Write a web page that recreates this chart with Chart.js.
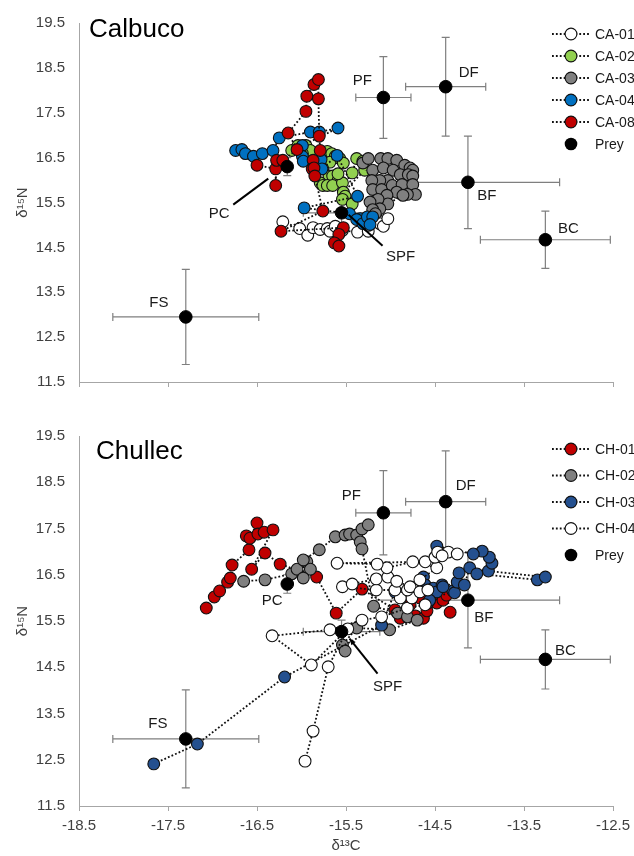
<!DOCTYPE html>
<html><head><meta charset="utf-8">
<script src="https://cdn.jsdelivr.net/npm/chart.js@4"></script>
<style>
html,body{margin:0;padding:0;background:#fff;overflow:hidden;width:634px;height:856px;}
#wrap{position:relative;width:660px;height:856px;}
canvas{position:absolute;left:0;}
#c1{top:0}
#c2{top:405px}
</style></head><body>
<div id="wrap"><canvas id="c1" width="660" height="405" style="width:660px;height:405px"></canvas><canvas id="c2" width="660" height="451" style="width:660px;height:451px"></canvas></div>
<script>
// ---------- DATA ----------
const X_TICKS = [-18.5, -17.5, -16.5, -15.5, -14.5, -13.5, -12.5];
const Y_TICKS = [11.5, 12.5, 13.5, 14.5, 15.5, 16.5, 17.5, 18.5, 19.5];

const PREY_LABELS = ['FS', 'PC', 'SPF', 'PF', 'DF', 'BF', 'BC'];
const PREY_X = [-17.30, -16.16, -15.55, -15.08, -14.38, -14.13, -13.26];
const PREY_Y = [12.95, 16.30, 15.27, 17.84, 18.08, 15.95, 14.67];
const PREY_XERR = [0.82, 0.0, 0.43, 0.31, 0.45, 1.03, 0.73];
const PREY_YERR = [1.06, 0.20, 0.25, 0.91, 1.10, 1.03, 0.64];

// Calbuco
const CA01 = [[-16.21,15.07],[-16.02,14.92],[-15.93,14.77],[-15.87,14.94],[-15.79,14.90],[-15.71,14.92],[-15.68,14.86],[-15.62,14.97],[-15.54,14.88],[-15.37,14.84],[-15.25,14.86],[-15.25,14.99],[-15.15,15.12],[-15.12,15.03],[-15.08,14.97],[-15.03,15.14]];
const CA02 = [[-16.11,16.66],[-16.04,16.77],[-15.95,16.77],[-15.90,16.66],[-15.99,16.59],[-15.71,16.64],[-15.66,16.59],[-15.62,16.53],[-15.57,16.48],[-15.53,16.38],[-15.68,16.40],[-15.76,16.25],[-15.69,16.09],[-15.65,16.09],[-15.59,15.99],[-15.79,15.94],[-15.76,15.88],[-15.71,15.88],[-15.65,15.88],[-15.54,15.94],[-15.59,16.14],[-15.43,16.16],[-15.38,16.48],[-15.31,16.42],[-15.29,16.22],[-15.53,15.73],[-15.51,15.64],[-15.54,15.57],[-15.43,15.47]];
const CA03 = [[-15.31,16.38],[-15.25,16.48],[-15.11,16.48],[-15.03,16.48],[-14.93,16.44],[-14.84,16.33],[-14.78,16.27],[-14.75,16.22],[-15.20,16.22],[-15.08,16.27],[-14.97,16.22],[-14.89,16.12],[-14.80,16.12],[-14.75,16.09],[-15.03,15.99],[-15.12,15.99],[-15.21,15.99],[-15.20,15.79],[-15.10,15.79],[-14.98,15.88],[-14.87,15.90],[-14.75,15.90],[-14.72,15.68],[-14.81,15.68],[-14.93,15.73],[-15.04,15.66],[-14.86,15.66],[-15.03,15.47],[-15.14,15.57],[-15.23,15.51],[-15.12,15.36],[-15.20,15.34],[-15.17,15.25]];
const CA04 = [[-16.74,16.66],[-16.67,16.68],[-16.63,16.59],[-16.54,16.53],[-16.44,16.59],[-16.32,16.66],[-16.25,16.94],[-15.90,17.07],[-15.80,17.07],[-15.59,17.16],[-15.99,16.77],[-15.99,16.53],[-15.98,16.42],[-15.78,16.46],[-15.77,16.25],[-15.60,16.55],[-15.37,15.64],[-15.97,15.38],[-15.46,15.25],[-15.34,15.14],[-15.38,15.12],[-15.31,15.03],[-15.26,15.18],[-15.20,15.18],[-15.23,15.01]];
const CA08 = [[-16.50,16.33],[-16.29,16.25],[-16.29,15.88],[-16.28,16.44],[-16.21,16.44],[-16.05,16.68],[-16.15,17.05],[-15.95,17.53],[-15.94,17.87],[-15.86,18.13],[-15.81,18.24],[-15.81,17.81],[-15.80,16.98],[-15.79,16.66],[-15.87,16.44],[-15.88,16.25],[-15.86,16.27],[-15.85,16.09],[-15.76,15.31],[-16.23,14.86],[-15.53,14.94],[-15.58,14.79],[-15.63,14.60],[-15.58,14.53]];

// Chullec
const CH01 = [[-17.07,15.78],[-16.98,16.02],[-16.92,16.15],[-16.83,16.34],[-16.80,16.43],[-16.78,16.71],[-16.59,17.04],[-16.62,17.34],[-16.58,17.29],[-16.50,17.62],[-16.49,17.38],[-16.42,17.42],[-16.32,17.47],[-16.56,16.62],[-16.41,16.97],[-16.24,16.73],[-15.83,16.45],[-15.61,15.67],[-15.32,16.19],[-14.95,15.74],[-14.89,15.56],[-14.81,15.69],[-14.78,15.85],[-14.72,15.61],[-14.63,15.56],[-14.59,15.72],[-14.67,16.00],[-14.56,15.91],[-14.48,15.89],[-14.44,16.06],[-14.41,15.95],[-14.37,16.06],[-14.33,15.69]];
const CH02 = [[-16.65,16.36],[-16.41,16.39],[-16.11,16.52],[-16.05,16.62],[-15.94,16.78],[-15.90,16.62],[-15.98,16.43],[-15.98,16.82],[-15.80,17.04],[-15.62,17.32],[-15.51,17.36],[-15.46,17.38],[-15.38,17.36],[-15.32,17.49],[-15.25,17.58],[-15.34,17.21],[-15.32,17.06],[-15.19,15.82],[-14.92,15.67],[-14.81,15.59],[-14.70,15.52],[-15.01,15.31],[-15.38,15.35],[-15.54,14.98],[-15.51,14.85]];
const CH03 = [[-17.66,12.41],[-17.17,12.84],[-16.19,14.29],[-15.10,15.41],[-14.95,16.13],[-14.63,16.45],[-14.61,16.28],[-14.52,16.21],[-14.48,16.13],[-14.58,15.89],[-14.56,15.95],[-14.30,16.15],[-14.28,16.11],[-14.42,16.28],[-14.41,16.24],[-14.25,16.34],[-14.23,16.54],[-14.17,16.28],[-14.11,16.65],[-14.03,16.52],[-13.35,16.39],[-13.26,16.45],[-13.90,16.58],[-13.86,16.75],[-13.89,16.88],[-13.97,17.01],[-14.07,16.95],[-14.48,17.12]];
const CH04 = [[-15.96,12.47],[-15.87,13.12],[-15.70,14.51],[-15.48,15.33],[-15.89,14.55],[-16.33,15.18],[-15.68,15.31],[-15.32,15.52],[-15.10,15.59],[-14.81,15.78],[-14.61,15.85],[-14.76,16.00],[-14.89,16.00],[-14.81,16.17],[-14.95,16.17],[-15.16,16.17],[-15.54,16.24],[-15.43,16.30],[-15.16,16.41],[-15.03,16.45],[-14.93,16.36],[-14.78,16.24],[-14.67,16.13],[-14.58,16.17],[-14.67,16.39],[-14.48,16.65],[-14.75,16.78],[-15.04,16.65],[-15.15,16.73],[-15.60,16.75],[-14.61,16.78],[-14.50,16.88],[-14.47,16.99],[-14.35,16.99],[-14.25,16.95],[-14.42,16.91]];

const CA_NAMES = ['CA-01', 'CA-02', 'CA-03', 'CA-04', 'CA-08'];
const CA_SERIES = [CA01, CA02, CA03, CA04, CA08];
const CA_COLORS = ['#FFFFFF', '#92D050', '#808080', '#0070C0', '#C00000'];
const CH_NAMES = ['CH-01', 'CH-02', 'CH-03', 'CH-04'];
const CH_SERIES = [CH01, CH02, CH03, CH04];
const CH_COLORS = ['#C00000', '#808080', '#24508F', '#FFFFFF'];

// ---------- STYLE / LAYOUT ----------
const FONT = "'Liberation Sans', Arial, sans-serif";
Chart.defaults.font.family = FONT;
const AXIS_COL = '#A6A6A6';
const TICK_COL = '#404040';
const MR = 5.9;

function seriesDs(label, pts, color, order) {
  return {
    label, order,
    data: pts.map(p => ({x: p[0], y: p[1]})),
    showLine: true, borderColor: '#111', borderWidth: 1.8, borderDash: [1.8, 2.1],
    pointRadius: MR, pointHoverRadius: MR, pointBackgroundColor: color,
    pointBorderColor: '#111', pointBorderWidth: 1.1, fill: false, tension: 0
  };
}
function preyDs() {
  return {
    label: 'Prey', order: 0,
    data: PREY_X.map((x, i) => ({x, y: PREY_Y[i]})),
    showLine: false, pointRadius: 6.3, pointHoverRadius: 6.3,
    pointBackgroundColor: '#000', pointBorderColor: '#000', pointBorderWidth: 1
  };
}

const preyPlugin = {
  id: 'prey',
  beforeDatasetsDraw(chart, args, o) {
    const {ctx, scales: {x, y}} = chart;
    ctx.save();
    ctx.strokeStyle = '#7F7F7F'; ctx.lineWidth = 1.2;
    PREY_X.forEach((vx, i) => {
      const px = x.getPixelForValue(vx), py = y.getPixelForValue(PREY_Y[i]);
      const x0 = x.getPixelForValue(vx - PREY_XERR[i]), x1 = x.getPixelForValue(vx + PREY_XERR[i]);
      const y0 = y.getPixelForValue(PREY_Y[i] - PREY_YERR[i]), y1 = y.getPixelForValue(PREY_Y[i] + PREY_YERR[i]);
      const c = 4;
      ctx.beginPath();
      if (PREY_XERR[i] > 0) {
        ctx.moveTo(x0, py); ctx.lineTo(x1, py);
        ctx.moveTo(x0, py - c); ctx.lineTo(x0, py + c);
        ctx.moveTo(x1, py - c); ctx.lineTo(x1, py + c);
      }
      if (PREY_YERR[i] > 0) {
        ctx.moveTo(px, y0); ctx.lineTo(px, y1);
        ctx.moveTo(px - c, y0); ctx.lineTo(px + c, y0);
        ctx.moveTo(px - c, y1); ctx.lineTo(px + c, y1);
      }
      ctx.stroke();
    });
    ctx.restore();
  },
  afterDatasetsDraw(chart, args, o) {
    const {ctx, scales: {x, y}} = chart;
    ctx.save();
    ctx.fillStyle = '#1a1a1a';
    ctx.font = '15px ' + FONT;
    ctx.textAlign = 'center'; ctx.textBaseline = 'middle';
    PREY_LABELS.forEach((lab, i) => {
      const px = x.getPixelForValue(PREY_X[i]), py = y.getPixelForValue(PREY_Y[i]);
      const off = o.labelOffsets[lab];
      ctx.fillText(lab, px + off[0], py + off[1]);
    });
    ctx.strokeStyle = '#000'; ctx.lineWidth = 2;
    (o.pointers || []).forEach(p => {
      const i = PREY_LABELS.indexOf(p.label);
      const px = x.getPixelForValue(PREY_X[i]), py = y.getPixelForValue(PREY_Y[i]);
      const ax = px + p.from[0], ay = py + p.from[1], bx = px + p.to[0], by = py + p.to[1];
      ctx.beginPath(); ctx.moveTo(ax, ay); ctx.lineTo(bx, by); ctx.stroke();
      if (p.arrow) {
        const ang = Math.atan2(by - ay, bx - ax), L = 7;
        ctx.beginPath();
        ctx.moveTo(bx, by);
        ctx.lineTo(bx - L * Math.cos(ang - 0.4), by - L * Math.sin(ang - 0.4));
        ctx.lineTo(bx - L * Math.cos(ang + 0.4), by - L * Math.sin(ang + 0.4));
        ctx.closePath(); ctx.fillStyle = '#000'; ctx.fill();
      }
    });
    ctx.fillStyle = '#000';
    ctx.font = '26px ' + FONT;
    ctx.textAlign = 'left'; ctx.textBaseline = 'middle';
    ctx.fillText(o.title, o.titlePos[0], o.titlePos[1]);
    ctx.font = '14px ' + FONT;
    o.legend.names.forEach((n, i) => {
      const ly = o.legend.y0 + i * o.legend.dy;
      ctx.save();
      ctx.strokeStyle = '#111'; ctx.lineWidth = 1.8; ctx.setLineDash([1.8, 2.1]);
      ctx.beginPath(); ctx.moveTo(552, ly); ctx.lineTo(590, ly); ctx.stroke();
      ctx.restore();
      ctx.beginPath(); ctx.arc(571, ly, MR, 0, Math.PI * 2);
      ctx.fillStyle = o.legend.colors[i]; ctx.fill();
      ctx.strokeStyle = '#111'; ctx.lineWidth = 1.1; ctx.stroke();
      ctx.fillStyle = '#1a1a1a';
      ctx.fillText(n, 595, ly + 1);
    });
    const py = o.legend.y0 + o.legend.names.length * o.legend.dy;
    ctx.beginPath(); ctx.arc(571, py, 6.3, 0, Math.PI * 2); ctx.fillStyle = '#000'; ctx.fill();
    ctx.fillStyle = '#1a1a1a';
    ctx.fillText('Prey', 595, py + 1);
    ctx.restore();
  }
};

function makeChart(id, names, series, colors, opts) {
  const datasets = [preyDs()];
  series.forEach((s, i) => datasets.push(seriesDs(names[i], s, colors[i], series.length - i)));
  return new Chart(document.getElementById(id), {
    type: 'scatter',
    data: {datasets},
    plugins: [preyPlugin],
    options: {
      responsive: false, animation: false, events: [],
      layout: {padding: {top: opts.padTop, right: 47, left: 0, bottom: 0}},
      plugins: {legend: {display: false}, tooltip: {enabled: false}, prey: opts.prey},
      scales: {
        x: {
          type: 'linear', min: X_TICKS[0], max: X_TICKS[X_TICKS.length - 1],
          afterBuildTicks: s => { s.ticks = X_TICKS.map(v => ({value: v})); },
          ticks: {display: opts.showX, padding: 6, color: TICK_COL, font: {size: 15}, callback: v => v.toFixed(1)},
          grid: {display: true, drawOnChartArea: false, drawTicks: true, tickLength: 5, color: AXIS_COL},
          border: {display: true, color: AXIS_COL, width: 1},
          title: {display: opts.showX, text: 'δ¹³C', color: TICK_COL, font: {size: 15}, padding: {top: 2, bottom: 1}},
          afterFit: s => { s.height = opts.xH; }
        },
        y: {
          type: 'linear', min: Y_TICKS[0], max: Y_TICKS[Y_TICKS.length - 1],
          afterBuildTicks: s => { s.ticks = Y_TICKS.map(v => ({value: v})); },
          ticks: {padding: 14, color: TICK_COL, font: {size: 15}, callback: v => v.toFixed(1)},
          grid: {display: false, drawTicks: false},
          border: {display: true, color: AXIS_COL, width: 1},
          title: {display: true, text: 'δ¹⁵N', color: TICK_COL, font: {size: 15}, padding: {top: 14, bottom: 0}},
          afterFit: s => { s.width = 79; }
        }
      }
    }
  });
}

makeChart('c1', CA_NAMES, CA_SERIES, CA_COLORS, {
  padTop: 16, xH: 20, showX: false,
  prey: {
    title: 'Calbuco', titlePos: [89, 30],
    labelOffsets: {FS: [-27, -14], PC: [-68, 47], SPF: [59, 44], PF: [-21, -17], DF: [23, -14], BF: [19, 14], BC: [23, -11]},
    pointers: [{label: 'PC', from: [-54, 38], to: [-19, 12]}, {label: 'SPF', from: [7, 2], to: [41, 33]}],
    legend: {names: CA_NAMES, colors: CA_COLORS, y0: 34, dy: 22}
  }
});
makeChart('c2', CH_NAMES, CH_SERIES, CH_COLORS, {
  padTop: 31, xH: 50, showX: true,
  prey: {
    title: 'Chullec', titlePos: [96, 47],
    labelOffsets: {FS: [-28, -15], PC: [-15, 17], SPF: [46, 55], PF: [-32, -17], DF: [20, -16], BF: [16, 18], BC: [20, -9]},
    pointers: [{label: 'SPF', from: [36, 42], to: [8, 7], arrow: true}],
    legend: {names: CH_NAMES, colors: CH_COLORS, y0: 44, dy: 26.5}
  }
});
</script>
</body></html>
